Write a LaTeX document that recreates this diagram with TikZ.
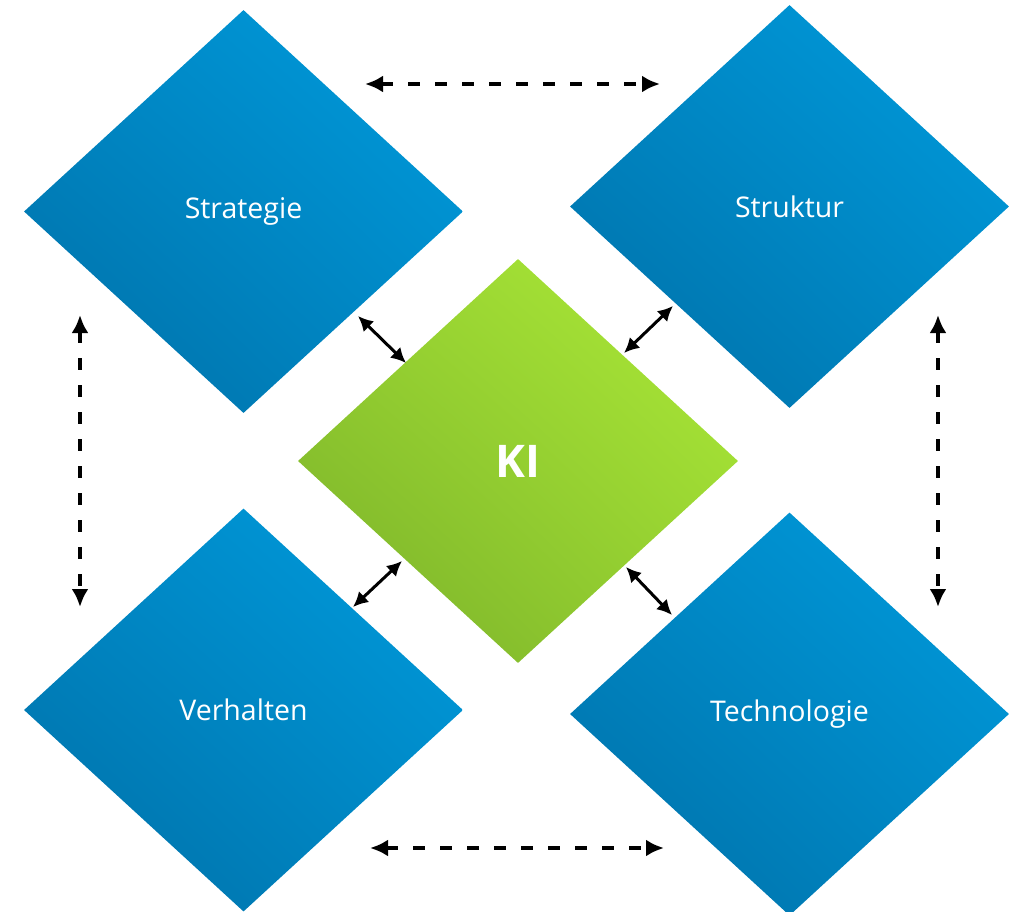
\documentclass[tikz,border=0pt]{standalone}
\usepackage{fontspec}
\setmainfont{Open Sans}
\usetikzlibrary{shapes.geometric,arrows.meta,shadings}
\definecolor{blueL}{HTML}{009DDF}
\definecolor{blueM}{HTML}{0087C4}
\definecolor{blueD}{HTML}{006EA5}
\definecolor{greenL}{HTML}{AEEC38}
\definecolor{greenM}{HTML}{95D031}
\definecolor{greenD}{HTML}{78AE29}
\tikzset{
  bluebox/.style={diamond, inner sep=0pt, minimum width=439pt, minimum height=403pt,
    upper right=blueL, lower left=blueD, upper left=blueM, lower right=blueM,
    text=white, font=\fontsize{28.5}{32}\selectfont},
  greenbox/.style={diamond, inner sep=0pt, minimum width=440pt, minimum height=404pt,
    upper right=greenL, lower left=greenD, upper left=greenM, lower right=greenM,
    text=white, font=\fontsize{45}{50}\selectfont\bfseries},
  dasharrow/.style={line width=3.6pt, dash pattern=on 12pt off 15pt,
    {Latex[length=18pt,width=17pt]}-{Latex[length=18pt,width=17pt]}},
  solidarrow/.style={line width=3pt,
    {Latex[length=15pt,width=15pt]}-{Latex[length=15pt,width=15pt]}}
}
\begin{document}
\begin{tikzpicture}[x=1pt,y=-1pt]
\useasboundingbox (0,0) rectangle (1018,911);
\node[bluebox] (strategie) at (243.5,211.5) {Strategie};
\node[bluebox] (struktur) at (789.5,206.5) {Struktur};
\node[bluebox] (verhalten) at (243.5,710) {Verhalten};
\node[bluebox] (technologie) at (789.5,714) {Technologie};
\node[greenbox] (ki) at (518,461) {KI};
% dashed connector end points
\coordinate (t1) at (365,84);
\coordinate (t2) at (660,84);
\coordinate (b1) at (370,848);
\coordinate (b2) at (664,848);
\coordinate (l1) at (80,315);
\coordinate (l2) at (80,607);
\coordinate (r1) at (938,315);
\coordinate (r2) at (938,607);
\draw[dasharrow] (t1) -- (t2);
\draw[dasharrow] (b1) -- (b2);
\draw[dasharrow] (l1) -- (l2);
\draw[dasharrow] (r1) -- (r2);
% solid connector end points
\coordinate (a1) at (358,316);
\coordinate (a2) at (406,363);
\coordinate (c1) at (673,306);
\coordinate (c2) at (624,353);
\coordinate (d1) at (402,561);
\coordinate (d2) at (353,607);
\coordinate (e1) at (626,567);
\coordinate (e2) at (672,615);
\draw[solidarrow] (a1) -- (a2);
\draw[solidarrow] (c1) -- (c2);
\draw[solidarrow] (d1) -- (d2);
\draw[solidarrow] (e1) -- (e2);
\end{tikzpicture}
\end{document}
